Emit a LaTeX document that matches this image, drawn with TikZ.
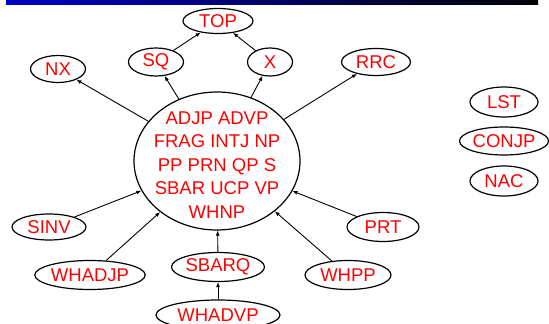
\documentclass[tikz,border=0pt]{standalone}
\usepackage{fontspec}
\setmainfont{Liberation Sans}
\usepackage{xcolor}
\usetikzlibrary{shapes.geometric,arrows.meta}
\definecolor{barblue}{RGB}{0,0,200}
\definecolor{catred}{RGB}{255,0,0}

\tikzset{
  cat/.style={ellipse, draw, line width=1.2pt, text=catred, inner sep=0pt,
    font=\fontsize{18.5}{21}\selectfont},
  link/.style={line width=0.9pt, -{Latex[length=5pt,width=4pt]}}
}

\begin{document}
\begin{tikzpicture}[x=1pt, y=-1pt]
    \useasboundingbox (0,0) rectangle (549,324);
    \shade[left color=barblue, right color=black] (6,0) rectangle (538,4);

    \node[cat, minimum width=166pt, minimum height=138pt, inner sep=-10pt, align=center,
      font=\fontsize{18.5}{23.5}\selectfont] (core) at (217,161)
      {\rule{0pt}{20pt}ADJP ADVP\\FRAG INTJ NP\\PP PRN QP S\\SBAR UCP VP\\WHNP};

    \node[cat, minimum width=70pt, minimum height=25pt] (top) at (218,21) {TOP};
    \node[cat, minimum width=55pt, minimum height=28pt] (sq) at (156,62) {SQ};
    \node[cat, minimum width=45pt, minimum height=28pt] (x) at (270,62) {X};
    \node[cat, minimum width=55pt, minimum height=27pt] (nx) at (58,69) {NX};
    \node[cat, minimum width=69pt, minimum height=27pt] (rrc) at (376,62) {RRC};

    \node[cat, minimum width=68pt, minimum height=30pt] (lst) at (504,102) {LST};
    \node[cat, minimum width=89pt, minimum height=28pt] (conjp) at (504,141) {CONJP};
    \node[cat, minimum width=68pt, minimum height=30pt] (nac) at (504,181) {NAC};

    \node[cat, minimum width=74pt, minimum height=26pt] (sinv) at (49,227) {SINV};
    \node[cat, minimum width=109pt, minimum height=29pt] (whadjp) at (90,275) {WHADJP};
    \node[cat, minimum width=93pt, minimum height=29pt] (sbarq) at (218,267) {SBARQ};
    \node[cat, minimum width=124pt, minimum height=30pt] (whadvp) at (218,315) {WHADVP};
    \node[cat, minimum width=72pt, minimum height=29pt] (prt) at (383,227) {PRT};
    \node[cat, minimum width=86pt, minimum height=29pt] (whpp) at (348,275) {WHPP};

    \draw[link] (sq) -- (top);
    \draw[link] (x) -- (top);
    \draw[link] (core) -- (sq);
    \draw[link] (core) -- (x);
    \draw[link] (core) -- (nx);
    \draw[link] (core) -- (rrc);
    \draw[link] (sinv) -- (core);
    \draw[link] (whadjp) -- (core);
    \draw[link] (sbarq) -- (core);
    \draw[link] (whpp) -- (core);
    \draw[link] (prt) -- (core);
    \draw[link] (whadvp) -- (sbarq);
  \end{tikzpicture}
\end{document}
